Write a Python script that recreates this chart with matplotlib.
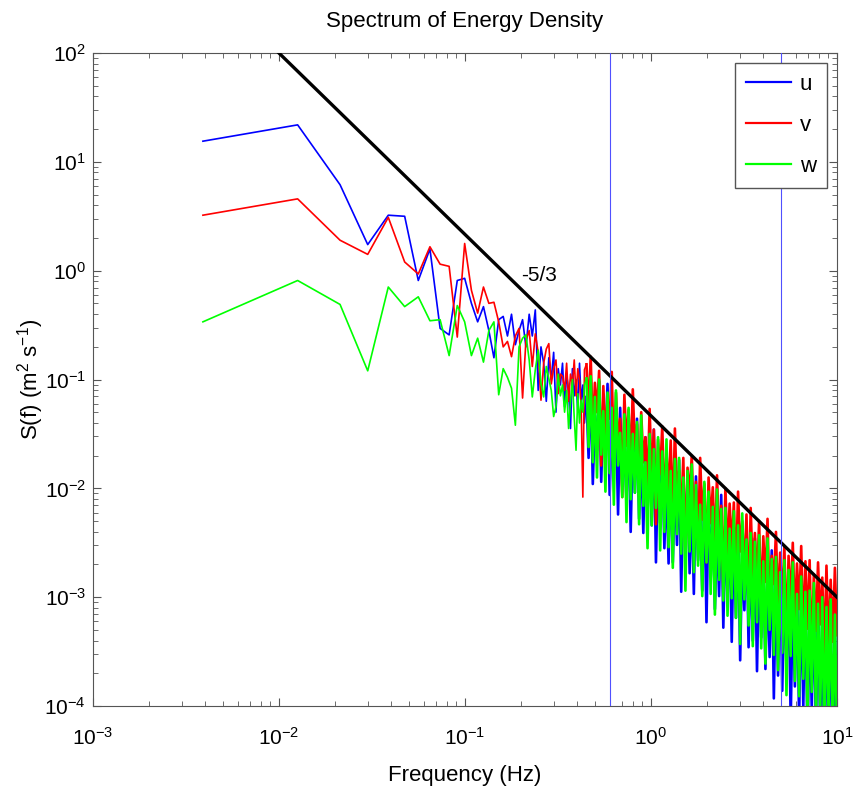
import numpy as np
import matplotlib
matplotlib.use('Agg')
import matplotlib.pyplot as plt
from matplotlib.ticker import LogLocator, NullFormatter

plt.rcParams['font.family'] = ['Liberation Sans', 'DejaVu Sans']
plt.rcParams['mathtext.default'] = 'regular'

# FFT bins below 0.44 Hz: f = f0 + k*df
f0 = 0.0039
df = 0.0087

# log10 S(f), low frequency part (one value per bin)
u_low = [1.19, 1.34, 0.79, 0.24, 0.51, 0.50, -0.09, 0.20, -0.53, -0.59,
         -0.09, -0.07, -0.30, -0.47, -0.33, -0.55, -0.80, -0.45, -0.42, -0.60,
         -0.40, -0.68, -0.55, -0.45, -0.70, -0.40, -0.60, -0.36, -1.10, -0.70,
         -0.85, -1.20, -0.80, -1.00, -0.75, -1.30, -0.90, -1.05, -0.85, -1.25,
         -0.95, -1.10, -1.45, -0.90, -1.15, -1.00, -1.30, -0.85, -1.20, -1.05,
         -1.40]
v_low = [0.51, 0.66, 0.28, 0.15, 0.49, 0.08, -0.03, 0.22, 0.06, 0.04,
         -0.61, 0.25, -0.18, -0.39, -0.15, -0.30, -0.29, -0.47, -0.70, -0.65,
         -0.79, -0.60, -0.53, -1.17, -0.64, -0.55, -0.88, -0.58, -0.75, -1.19,
         -0.85, -0.72, -0.67, -1.04, -0.90, -0.82, -1.13, -0.95, -0.97, -1.10,
         -0.85, -1.20, -0.95, -1.05, -0.82, -1.15, -0.90, -1.00, -1.25, -2.08,
         -0.91]
w_low = [-0.47, -0.09, -0.31, -0.92, -0.15, -0.33, -0.24, -0.46, -0.45, -0.78,
         -0.32, -0.47, -0.78, -0.62, -0.84, -0.55, -0.47, -1.14, -0.90, -0.98,
         -1.08, -1.42, -0.70, -0.62, -0.59, -0.82, -1.16, -0.91, -0.73, -1.04,
         -1.16, -0.88, -0.99, -1.10, -1.34, -1.25, -0.95, -1.15, -1.05, -1.30,
         -1.10, -1.45, -1.20, -1.00, -1.35, -1.65, -1.13, -1.40, -1.19, -1.30,
         -1.05]

# dense part (0.45 - 10 Hz), read on a log spaced grid
f_hi_start = 0.45
f_hi_end = 10.0
u_hi = [-1.16, -1.72, -0.99, -1.96, -1.33, -1.65, -1.02, -1.94, -1.26, -1.63,
        -1.04, -2.06, -1.43, -1.75, -1.32, -2.24, -1.26, -1.98, -1.59, -2.11,
        -1.38, -2.40, -1.52, -2.04, -1.36, -2.28, -1.65, -2.41, -1.53, -2.10,
        -1.62, -2.34, -1.46, -2.68, -1.75, -2.32, -1.63, -2.55, -1.92, -2.69,
        -1.71, -2.68, -1.95, -2.52, -1.74, -2.95, -1.92, -2.44, -1.91, -2.78,
        -2.05, -2.97, -1.89, -2.66, -2.17, -2.94, -2.01, -3.23, -2.15, -2.82,
        -2.14, -3.11, -2.38, -2.99, -2.06, -3.28, -2.35, -3.02, -2.29, -3.41,
        -2.38, -3.19, -2.31, -3.58, -2.55, -3.12, -2.34, -3.46, -2.58, -3.40,
        -2.46, -3.68, -2.65, -3.37, -2.59, -3.66, -2.78, -3.55, -2.57, -3.93,
        -2.80, -3.72, -2.69, -3.86, -2.83, -3.65, -2.82, -4.14, -3.00, -3.82,
        -2.89, -4.11, -2.98, -4.00, -2.92, -4.34, -3.11, -4.02, -3.09, -4.21,
        -3.03, -4.20, -3.22, -4.54, -3.16, -4.23, -3.24, -4.46, -3.18, -4.55]
v_hi = [-0.86, -1.32, -0.79, -1.51, -1.03, -1.30, -0.92, -1.79, -1.06, -1.53,
        -1.19, -1.36, -0.93, -1.75, -1.12, -1.59, -1.36, -2.08, -1.14, -1.61,
        -1.28, -1.80, -1.09, -1.64, -1.41, -2.08, -1.30, -1.76, -1.53, -2.00,
        -1.27, -1.94, -1.46, -2.33, -1.55, -1.87, -1.43, -2.15, -1.67, -2.04,
        -1.56, -2.33, -1.45, -2.07, -1.84, -2.25, -1.72, -2.69, -1.81, -2.08,
        -1.70, -2.32, -1.94, -2.51, -1.72, -2.29, -1.96, -2.68, -1.90, -2.32,
        -1.99, -2.61, -1.88, -2.49, -2.16, -2.93, -2.00, -2.62, -2.14, -2.56,
        -2.13, -2.84, -2.03, -2.58, -2.30, -2.82, -2.24, -3.11, -2.18, -2.80,
        -2.41, -2.88, -2.30, -3.12, -2.44, -2.86, -2.28, -3.10, -2.62, -2.88,
        -2.40, -3.12, -2.59, -3.06, -2.53, -3.40, -2.62, -3.09, -2.50, -3.22,
        -2.69, -3.11, -2.53, -3.40, -2.67, -3.29, -2.66, -3.57, -2.79, -3.31,
        -2.68, -3.25, -2.82, -3.54, -2.71, -3.48, -2.84, -3.41, -2.73, -3.35]
w_hi = [-0.99, -1.62, -0.97, -1.76, -1.16, -1.90, -1.00, -1.69, -1.29, -2.03,
        -1.12, -1.86, -1.26, -2.15, -1.10, -1.79, -1.49, -2.08, -1.32, -2.31,
        -1.26, -2.10, -1.50, -2.04, -1.39, -2.33, -1.33, -2.16, -1.76, -2.55,
        -1.50, -2.34, -1.64, -2.18, -1.53, -2.57, -1.66, -2.40, -1.55, -2.54,
        -1.84, -2.73, -1.73, -2.42, -1.72, -2.60, -1.90, -2.94, -1.84, -2.58,
        -1.78, -2.77, -1.97, -2.71, -2.15, -2.99, -1.94, -2.68, -2.03, -2.97,
        -2.17, -3.16, -2.01, -2.84, -2.19, -3.03, -2.18, -3.17, -2.37, -3.01,
        -2.21, -3.19, -2.34, -3.43, -2.23, -3.02, -2.47, -3.26, -2.41, -3.45,
        -2.49, -3.23, -2.43, -3.47, -2.67, -3.61, -2.46, -3.30, -2.65, -3.53,
        -2.63, -3.67, -2.77, -3.51, -2.66, -3.90, -2.75, -3.54, -2.68, -3.77,
        -2.97, -3.91, -2.81, -3.75, -2.95, -4.14, -2.94, -3.87, -2.87, -4.11,
        -3.06, -4.05, -3.00, -4.34, -3.09, -4.08, -3.02, -4.31, -3.16, -4.25]

names = ['u', 'v', 'w']
colors = ['#0000ff', '#ff0000', '#00ff00']

# -5/3 reference line and the two cut-off frequencies
slope_f = [0.01, 10.0]
slope_S = [100.0, 1e-3]
cutoffs = [0.6, 5.0]

fig = plt.figure(figsize=(8.56, 7.94), dpi=100)
ax = fig.add_axes([0.1086, 0.1108, 0.8692, 0.8224])

f_low = f0 + df * np.arange(len(u_low))
f_hi = np.geomspace(f_hi_start, f_hi_end, len(u_hi))

for lo, hi, c, n in zip([u_low, v_low, w_low], [u_hi, v_hi, w_hi], colors, names):
    S_lo = 10 ** np.array(lo)
    S_hi = 10 ** np.array(hi)
    # low part joined to the first dense point, dense part drawn a bit heavier
    ax.plot(np.append(f_low, f_hi[0]), np.append(S_lo, S_hi[0]), color=c, lw=1.2, label=n)
    ax.plot(f_hi, S_hi, color=c, lw=1.9)

ax.plot(slope_f, slope_S, color='k', lw=2.4, zorder=4)
for fc in cutoffs:
    ax.axvline(fc, color='#5050ff', lw=0.8, zorder=5)
ax.text(0.25, 0.91, '-5/3', fontsize=15, ha='center', va='center')

ax.set_xscale('log')
ax.set_yscale('log')
ax.set_xlim(1e-3, 10)
ax.set_ylim(1e-4, 1e2)
for axis in (ax.xaxis, ax.yaxis):
    axis.set_major_locator(LogLocator(base=10, numticks=20))
    axis.set_minor_locator(LogLocator(base=10, subs=np.arange(2, 10), numticks=20))
    axis.set_minor_formatter(NullFormatter())

ax.tick_params(which='both', direction='in', top=True, right=True, color='#555555',
               labelsize=15)
ax.tick_params(which='major', length=6)
ax.tick_params(which='minor', length=3.5)
ax.tick_params(axis='y', which='major', pad=5)
ax.tick_params(axis='x', which='major', pad=15)
for sp in ax.spines.values():
    sp.set_color('#555555')

ax.set_title('Spectrum of Energy Density', fontsize=16, pad=19)
ax.set_xlabel('Frequency (Hz)', fontsize=16, labelpad=12)
ax.set_ylabel('S(f) (m$^2$ s$^{-1}$)', fontsize=16, labelpad=-1)

leg = ax.legend(loc='upper right', fancybox=False, edgecolor='#555555', framealpha=1,
                fontsize=16, handlelength=2.0, labelspacing=0.9, borderaxespad=0.45,
                handletextpad=0.4, borderpad=0.5)
leg.get_frame().set_linewidth(1.0)
for line in leg.get_lines():
    line.set_linewidth(1.6)

fig.savefig('out.png', dpi=100)
